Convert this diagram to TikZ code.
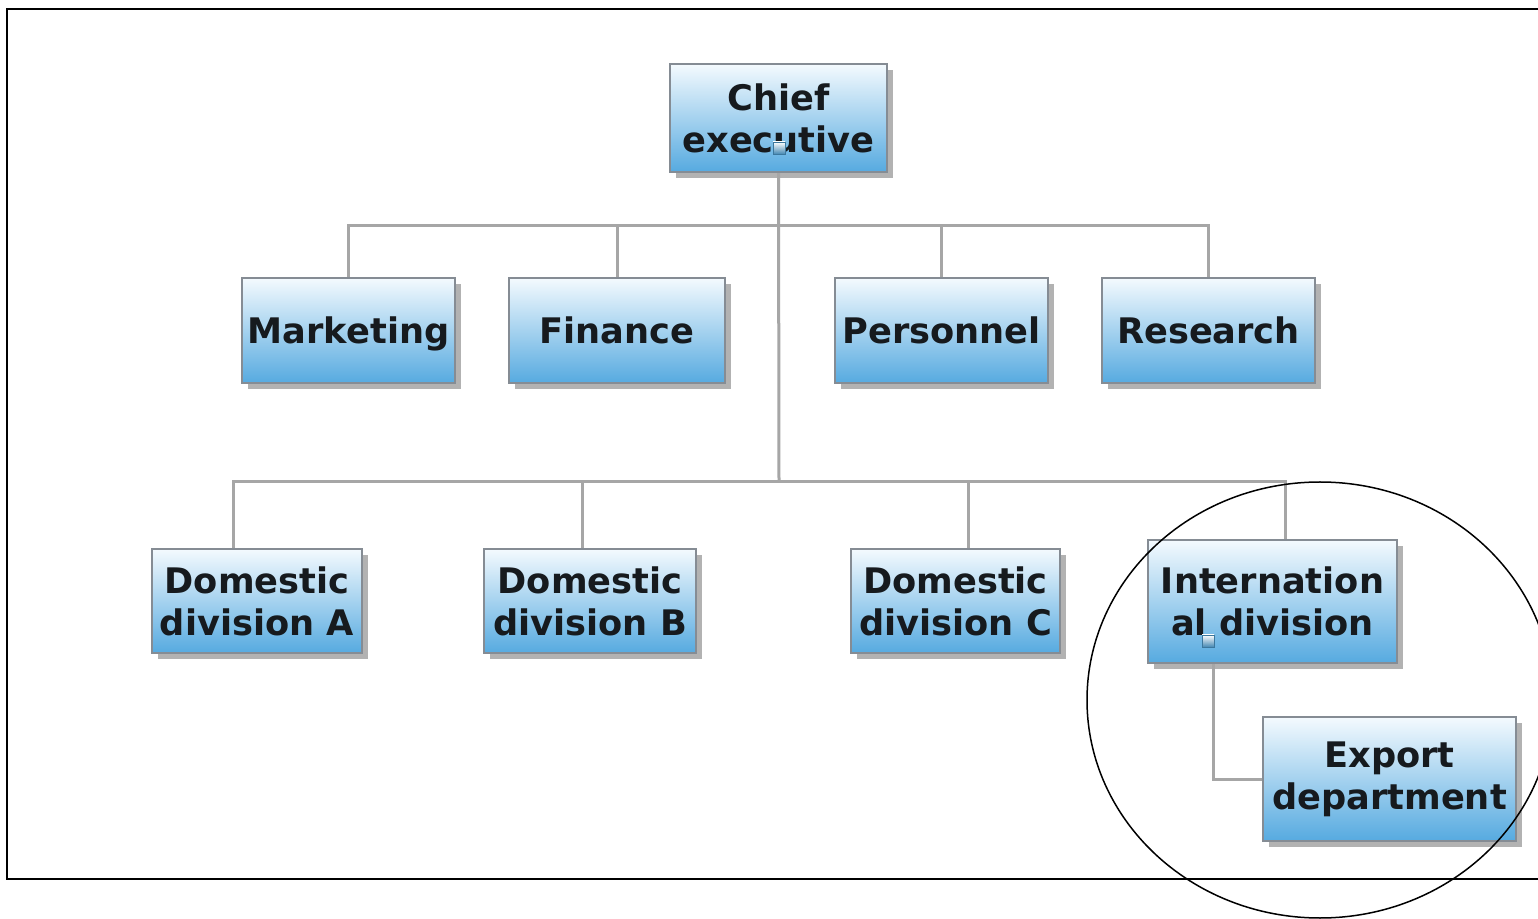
\documentclass[tikz,border=0pt]{standalone}
\usepackage{fontspec}
\setmainfont{DejaVu Sans}
\usetikzlibrary{shadows}
\definecolor{boxtop}{HTML}{F4FAFE}
\definecolor{boxbot}{HTML}{56AAE0}
\definecolor{boxline}{HTML}{858C94}
\definecolor{conn}{HTML}{A6A6A6}
\definecolor{txt}{HTML}{161A1E}
\tikzset{
  orgbox/.style={rectangle, draw=boxline, line width=1.2pt, top color=boxtop, bottom color=boxbot,
    inner sep=0pt, align=center, font=\bfseries\fontsize{17.6}{21}\selectfont, text=txt,
    general shadow={shadow xshift=3pt, shadow yshift=-3pt, fill=black, opacity=0.3}},
  oneline/.style={text height=12.8pt, text depth=0pt},
  link/.style={draw=conn, line width=1.5pt},
  handle/.style={rectangle, draw=boxbot!70!black, line width=0.4pt, top color=white, bottom color=boxbot!80!black, minimum width=6pt, minimum height=6pt, inner sep=0pt}
}
\begin{document}
\begin{tikzpicture}[x=0.5pt,y=-0.5pt]
\useasboundingbox (0,0) rectangle (1538,919);
\clip (0,0) rectangle (1538,919);
\fill[white] (0,0) rectangle (1538,919);
% frame
\draw[line width=1pt] (1540,9) -- (7,9) -- (7,879) -- (1540,879);
% nodes
\node[orgbox, minimum width=108.5pt, minimum height=54pt] (chief) at (778.5,118) {Chief\\executive};
\node[orgbox, oneline, minimum width=106.5pt, minimum height=52.5pt] (mkt) at (348.5,330.5) {Marketing};
\node[orgbox, oneline, minimum width=108pt, minimum height=52.5pt] (fin) at (617,330.5) {Finance};
\node[orgbox, oneline, minimum width=106.5pt, minimum height=52.5pt] (per) at (941.5,330.5) {Personnel};
\node[orgbox, oneline, minimum width=106.5pt, minimum height=52.5pt] (res) at (1208.5,330.5) {Research};
\node[orgbox, minimum width=105pt, minimum height=52pt] (dA) at (257,601) {Domestic\\division A};
\node[orgbox, minimum width=106pt, minimum height=52pt] (dB) at (590,601) {Domestic\\division B};
\node[orgbox, minimum width=104.5pt, minimum height=52pt] (dC) at (955.5,601) {Domestic\\division C};
\node[orgbox, minimum width=124.5pt, minimum height=61.5pt] (intl) at (1272.5,601.5) {Internation\\al division};
\node[orgbox, minimum width=126.5pt, minimum height=62pt] (exp) at (1389.5,779) {Export\\department};
% coordinates for connectors
\coordinate (tb) at (779,226);
\coordinate (bb) at (779,482);
\coordinate (xA) at (233,482);
\coordinate (xB) at (582,482);
\coordinate (xC) at (968,482);
\coordinate (xI) at (1285,482);
\coordinate (xE) at (1213,0);
% connectors
\draw[link] (chief.south) -- (bb);
\draw[link] (mkt.north) |- (tb) -| (res.north);
\draw[link] (fin.north) -- (fin.north |- tb);
\draw[link] (per.north) -- (per.north |- tb);
\draw[link] (xA |- dA.north) -- (xA) -- (xI) -- (xI |- intl.north);
\draw[link] (xB) -- (xB |- dB.north);
\draw[link] (xC) -- (xC |- dC.north);
\draw[link] (xE |- intl.south) |- (exp.west);
% small handles
\node[handle] (h1) at (779,148) {};
\node[handle] (h2) at (1208,641) {};
% highlight ellipse
\draw[line width=0.75pt] (1320,700) ellipse [x radius=116.5pt, y radius=109pt];
\end{tikzpicture}
\end{document}
